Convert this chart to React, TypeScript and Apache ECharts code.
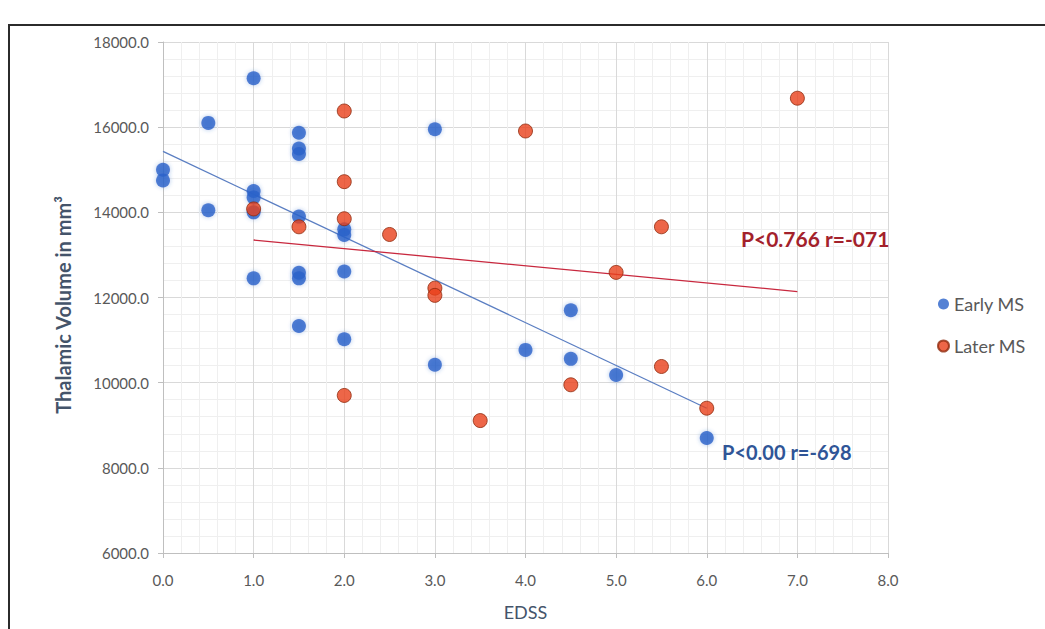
import React, { useEffect, useRef } from "react";
import * as echarts from "echarts";

const earlyMS: [number, number][] = [
  [0, 15000], [0, 14750], [0.5, 16100], [0.5, 14050], [1, 17150], [1, 14500], [1, 14350],
  [1, 14000], [1, 12450], [1.5, 15870], [1.5, 15500], [1.5, 15370], [1.5, 13900], [1.5, 12580],
  [1.5, 12450], [1.5, 11330], [2, 13600], [2, 13470], [2, 12610], [2, 11020], [3, 15950],
  [3, 10420], [4, 10770], [4.5, 11700], [4.5, 10560], [5, 10180], [6, 8700],
];
const laterMS: [number, number][] = [
  [1, 14080], [1.5, 13660], [2, 16380], [2, 14720], [2, 13850], [2, 9700], [2.5, 13480],
  [3, 12220], [3, 12050], [3.5, 9110], [4, 15910], [4.5, 9950], [5, 12590], [5.5, 13660],
  [5.5, 10380], [6, 9400], [7, 16680],
];
const earlyTrend: [number, number][] = [[0, 15430], [6, 9400]];
const laterTrend: [number, number][] = [[1, 13350], [7, 12140]];
const seriesNames = ["Early MS", "Later MS"];
const annotations = ["P<0.766 r=-071", "P<0.00 r=-698"];
const yTitle = "Thalamic Volume in mm³";
const xTitle = "EDSS";

const FONT = "Lato, 'Open Sans', sans-serif";

export default function App() {
  const ref = useRef<HTMLDivElement>(null);
  useEffect(() => {
    if (!ref.current) return;
    const chart = echarts.init(ref.current, undefined, { renderer: "svg" });
    chart.setOption({
      animation: false,
      backgroundColor: "#ffffff",
      textStyle: { fontFamily: FONT },
      grid: { left: 163, top: 42, right: 157, bottom: 76, containLabel: false },
      legend: {
        orient: "vertical",
        left: 932,
        top: 290,
        itemGap: 24,
        itemWidth: 11,
        itemHeight: 11,
        icon: "circle",
        data: seriesNames,
        textStyle: { color: "#595959", fontSize: 18, fontFamily: FONT },
      },
      xAxis: {
        type: "value",
        min: 0,
        max: 8,
        interval: 1,
        name: xTitle,
        nameLocation: "middle",
        nameGap: 50,
        nameTextStyle: { color: "#44546A", fontSize: 18, fontFamily: FONT },
        axisLine: { show: true, lineStyle: { color: "#BFBFBF" } },
        axisTick: { show: true, length: 5, lineStyle: { color: "#BFBFBF" } },
        axisLabel: { color: "#595959", fontSize: 15, margin: 19, formatter: (v: number) => v.toFixed(1) },
        splitLine: { show: true, lineStyle: { color: "#D9D9D9", width: 1 } },
        minorTick: { show: false, splitNumber: 5 },
        minorSplitLine: { show: true, lineStyle: { color: "#EFEFEF", width: 1 } },
      },
      yAxis: {
        type: "value",
        min: 6000,
        max: 18000,
        interval: 2000,
        axisLine: { show: true, lineStyle: { color: "#BFBFBF" } },
        axisTick: { show: true, length: 5, lineStyle: { color: "#BFBFBF" } },
        axisLabel: { color: "#595959", fontSize: 15, margin: 14, formatter: (v: number) => v.toFixed(1) },
        splitLine: { show: true, lineStyle: { color: "#D9D9D9", width: 1 } },
        minorTick: { show: false, splitNumber: 5 },
        minorSplitLine: { show: true, lineStyle: { color: "#EFEFEF", width: 1 } },
      },
      series: [
        {
          name: seriesNames[0],
          type: "scatter",
          data: earlyMS,
          symbolSize: 14,
          itemStyle: {
            color: "#2962C9",
            shadowBlur: 4,
            shadowColor: "rgba(41,98,201,0.45)",
          },
          z: 3,
        },
        {
          name: seriesNames[1],
          type: "scatter",
          data: laterMS,
          symbolSize: 14,
          itemStyle: {
            color: "#E8401A",
            borderColor: "#8E2A0E",
            borderWidth: 1,
          },
          z: 4,
        },
        {
          name: "earlyTrend",
          type: "line",
          data: earlyTrend,
          showSymbol: false,
          symbol: "none",
          silent: true,
          lineStyle: { color: "#5A7EC2", width: 1.3 },
          z: 2,
        },
        {
          name: "laterTrend",
          type: "line",
          data: laterTrend,
          showSymbol: false,
          symbol: "none",
          silent: true,
          lineStyle: { color: "#C8283E", width: 1.3 },
          z: 2,
        },
      ],
      graphic: [
        {
          type: "rect",
          shape: { x: 9, y: 25, width: 1100, height: 700 },
          style: { fill: "none", stroke: "#2b2b2b", lineWidth: 2 },
          silent: true,
          z: 100,
        },
        {
          type: "text",
          x: 63,
          y: 305,
          rotation: Math.PI / 2,
          silent: true,
          z: 50,
          style: {
            text: yTitle,
            fill: "#44546A",
            fontSize: 20,
            fontWeight: "bold",
            fontFamily: FONT,
            align: "center",
            verticalAlign: "middle",
          },
        },
        {
          type: "text",
          x: 741,
          y: 238,
          silent: true,
          z: 50,
          style: {
            text: annotations[0],
            fill: "#A3212B",
            fontSize: 21,
            fontWeight: "bold",
            fontFamily: FONT,
            verticalAlign: "middle",
          },
        },
        {
          type: "text",
          x: 722,
          y: 452,
          silent: true,
          z: 50,
          style: {
            text: annotations[1],
            fill: "#2F5597",
            fontSize: 20,
            fontWeight: "bold",
            fontFamily: FONT,
            verticalAlign: "middle",
          },
        },
      ],
    });
    return () => chart.dispose();
  }, []);
  return (
    <div
      ref={ref}
      style={{ position: "fixed", left: 0, top: 0, width: 1045, height: 629 }}
    />
  );
}
